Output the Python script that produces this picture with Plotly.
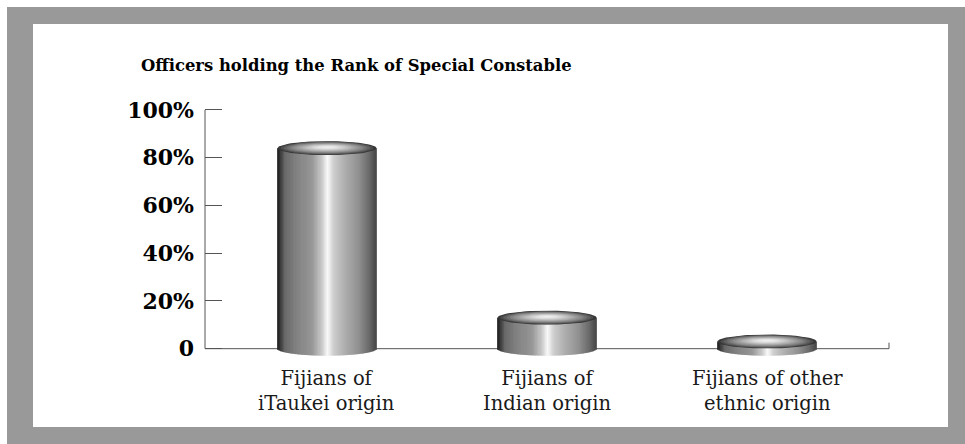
import numpy as np
import plotly.graph_objects as go

# ---------------- data ----------------
title_text = "Officers holding the Rank of Special Constable"
categories = ["Fijians of<br>iTaukei origin", "Fijians of<br>Indian origin", "Fijians of other<br>ethnic origin"]
values = [84, 13, 3]
y_tickvals = [0, 20, 40, 60, 80, 100]
y_ticktext = ["0", "20%", "40%", "60%", "80%", "100%"]

# ---------------- layout geometry (pixels) ----------------
W, H = 965, 444
ML, MR, MT, MB = 205, 76, 98, 81
YR = [-6, 105]
XR = [-0.5545, 2.5545]
plot_w = W - ML - MR
plot_h = H - MT - MB
px_per_y = plot_h / (YR[1] - YR[0])

RX = 0.225                 # cylinder half width (x units)
RY = 7.0 / px_per_y        # ellipse half height (y units)
N_STRIPS = 70
N_RINGS = 16

# body shading across the cylinder (fraction of width -> gray level)
shade_u = [0.0, 0.03, 0.08, 0.2, 0.35, 0.45, 0.51, 0.57, 0.68, 0.82, 0.93, 1.0]
shade_v = [25, 55, 105, 130, 150, 200, 250, 205, 175, 145, 105, 70]
# top disk radial shading (ring scale -> gray level)
ring_k = [0.0, 0.25, 0.5, 0.75, 0.9, 1.0]
ring_v = [245, 225, 180, 130, 90, 55]


def gray(v):
    v = int(max(0, min(255, round(v))))
    return f"rgb({v},{v},{v})"


def px_to_paper_x(px):
    return (px - ML) / plot_w


def px_to_paper_y(py):
    return (H - MB - py) / plot_h


fig = go.Figure()

edges = np.linspace(-1, 1, N_STRIPS + 1)
uc = (edges[:-1] + edges[1:]) / 2
sq = np.sqrt(1 - uc ** 2)
strip_w = 2 * RX / N_STRIPS * 1.5
colors = [gray(np.interp((u + 1) / 2, shade_u, shade_v)) for u in uc]

t = np.linspace(0, 2 * np.pi, 80)

for i, v in enumerate(values):
    fig.add_trace(go.Bar(
        x=i + RX * uc,
        y=v + RY * sq,
        base=-RY * sq,
        width=[strip_w] * N_STRIPS,
        marker=dict(color=colors, line=dict(width=0)),
        hoverinfo="skip", showlegend=False,
    ))
    for k in np.linspace(1, 0.06, N_RINGS):
        cy = v + RY * 0.15 * (1 - k)
        fig.add_trace(go.Scatter(
            x=i + RX * k * np.cos(t),
            y=cy + RY * k * np.sin(t),
            mode="lines", fill="toself",
            fillcolor=gray(np.interp(k, ring_k, ring_v)),
            line=dict(width=0), hoverinfo="skip", showlegend=False,
        ))

for i, lab in enumerate(categories):
    fig.add_annotation(
        x=i, y=0, xref="x", yref="y", text=lab, showarrow=False,
        yanchor="top", yshift=-16, align="center",
        font=dict(family="DejaVu Serif", size=19.5, color="#1a1a1a"),
    )

shapes = [
    dict(type="rect", xref="paper", yref="paper", layer="below",
         x0=px_to_paper_x(7), x1=px_to_paper_x(975), y0=px_to_paper_y(7), y1=px_to_paper_y(454),
         fillcolor="#999999", line=dict(width=0)),
    dict(type="rect", xref="paper", yref="paper", layer="below",
         x0=px_to_paper_x(33), x1=px_to_paper_x(948), y0=px_to_paper_y(24), y1=px_to_paper_y(427),
         fillcolor="white", line=dict(width=0)),
    dict(type="line", xref="paper", yref="y", layer="below",
         x0=0, x1=0, y0=0, y1=y_tickvals[-1], line=dict(color="#555555", width=1)),
    dict(type="line", xref="paper", yref="y", layer="below",
         x0=0, x1=1, y0=0, y1=0, line=dict(color="#555555", width=1)),
    dict(type="line", xref="paper", yref="y", layer="below",
         x0=1, x1=1, y0=0, y1=6 / px_per_y, line=dict(color="#555555", width=1)),
]

fig.update_layout(
    width=W, height=H,
    margin=dict(l=ML, r=MR, t=MT, b=MB, pad=0),
    paper_bgcolor="white", plot_bgcolor="rgba(0,0,0,0)",
    barmode="overlay", showlegend=False,
    shapes=shapes,
    title=dict(text="<b>" + title_text + "</b>", xref="container", yref="container",
               x=141 / W, xanchor="left", y=1 - 65 / H, yanchor="middle",
               font=dict(family="DejaVu Serif", size=16.4, color="black")),
    xaxis=dict(range=XR, showticklabels=False, showline=False, showgrid=False,
               zeroline=False, ticks=""),
    yaxis=dict(range=YR, tickvals=y_tickvals, ticktext=y_ticktext, ticks="inside",
               ticklen=17, tickcolor="#555555", tickwidth=1, showline=False,
               showgrid=False, zeroline=False, ticklabelstandoff=10,
               tickfont=dict(family="DejaVu Serif", size=22, color="black", weight="bold")),
)

fig.write_html("out.html")
